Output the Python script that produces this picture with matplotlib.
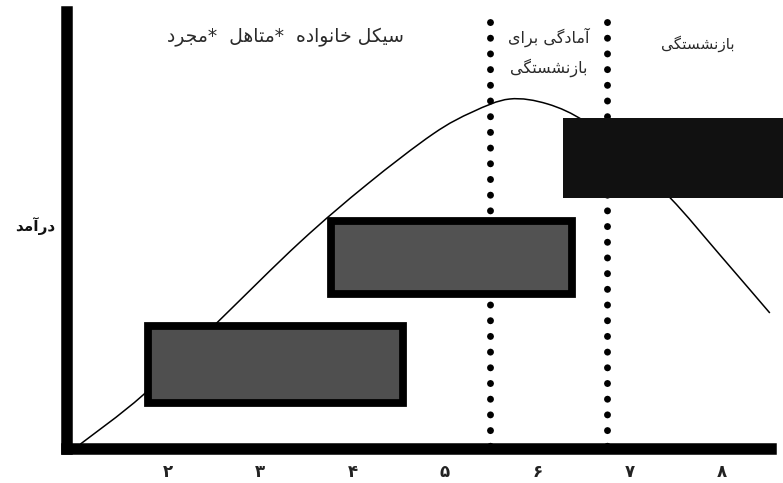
import matplotlib
matplotlib.use("Agg")
import matplotlib.pyplot as plt
from matplotlib.patches import Rectangle, PathPatch
from matplotlib.path import Path

plt.rcParams['font.family'] = ['DejaVu Sans']

# ---------------- data ----------------
tick_pos = [2, 3, 4, 5, 6, 7, 8]
tick_labels = ['۲', '۳', '۴', '۵', '۶', '۷', '۸']

curve_x = [1.05, 1.73, 2.54, 3.43, 4.16, 4.87, 5.30, 5.70, 6.11, 6.51, 6.90, 7.44, 7.98, 8.52]
curve_y = [1.1, 12.2, 28.7, 46.7, 59.8, 71.1, 76.1, 79.0, 77.9, 74.0, 67.0, 56.7, 43.8, 30.7]

box_start = [1.78, 3.77, 6.28]
box_end = [4.55, 6.38, 8.75]
box_low = [10.3, 34.9, 56.7]
box_high = [27.8, 51.5, 74.7]
box_fill = ['#4f4f4f', '#525252', '#111111']
box_edge = [True, True, False]

divider_x = [5.49, 6.76]

label_top_left = 'سیکل خانواده  *متاهل  *مجرد'
label_prep = ['آمادگی برای', 'بازنشستگی']
label_retire = 'بازنشستگی'
label_y = 'درآمد'

# ------------- Arabic shaping helper -------------
FORMS = {
    'ا': ('\uFE8D', '\uFE8E', None, None),
    'آ': ('\uFE81', '\uFE82', None, None),
    'ب': ('\uFE8F', '\uFE90', '\uFE91', '\uFE92'),
    'ت': ('\uFE95', '\uFE96', '\uFE97', '\uFE98'),
    'ج': ('\uFE9D', '\uFE9E', '\uFE9F', '\uFEA0'),
    'خ': ('\uFEA5', '\uFEA6', '\uFEA7', '\uFEA8'),
    'د': ('\uFEA9', '\uFEAA', None, None),
    'ر': ('\uFEAD', '\uFEAE', None, None),
    'ز': ('\uFEAF', '\uFEB0', None, None),
    'س': ('\uFEB1', '\uFEB2', '\uFEB3', '\uFEB4'),
    'ش': ('\uFEB5', '\uFEB6', '\uFEB7', '\uFEB8'),
    'ل': ('\uFEDD', '\uFEDE', '\uFEDF', '\uFEE0'),
    'م': ('\uFEE1', '\uFEE2', '\uFEE3', '\uFEE4'),
    'ن': ('\uFEE5', '\uFEE6', '\uFEE7', '\uFEE8'),
    'ه': ('\uFEE9', '\uFEEA', '\uFEEB', '\uFEEC'),
    'و': ('\uFEED', '\uFEEE', None, None),
    'ک': ('\uFB8E', '\uFB8F', '\uFB90', '\uFB91'),
    'گ': ('\uFB92', '\uFB93', '\uFB94', '\uFB95'),
    'ی': ('\uFBFC', '\uFBFD', '\uFBFE', '\uFBFF'),
}


def dual(c):
    return c in FORMS and FORMS[c][2] is not None


def shape(text):
    out = []
    for i, c in enumerate(text):
        if c not in FORMS:
            out.append(c)
            continue
        prev = text[i - 1] if i > 0 else ''
        nxt = text[i + 1] if i + 1 < len(text) else ''
        jp = dual(prev)
        jn = dual(c) and nxt in FORMS
        f = FORMS[c]
        if jp and jn:
            out.append(f[3])
        elif jp:
            out.append(f[1])
        elif jn:
            out.append(f[2])
        else:
            out.append(f[0])
    return ''.join(reversed(out))


def smooth_path(xs, ys):
    """Catmull-Rom spline through the points, as cubic Bezier path."""
    pts = list(zip(xs, ys))
    n = len(pts)
    verts = [pts[0]]
    codes = [Path.MOVETO]
    for i in range(n - 1):
        p0 = pts[i - 1] if i > 0 else pts[i]
        p1 = pts[i]
        p2 = pts[i + 1]
        p3 = pts[i + 2] if i + 2 < n else pts[i + 1]
        c1 = (p1[0] + (p2[0] - p0[0]) / 6, p1[1] + (p2[1] - p0[1]) / 6)
        c2 = (p2[0] - (p3[0] - p1[0]) / 6, p2[1] - (p3[1] - p1[1]) / 6)
        verts += [c1, c2, p2]
        codes += [Path.CURVE4] * 3
    return Path(verts, codes)


# ---------------- figure ----------------
fig = plt.figure(figsize=(7.83, 4.83), dpi=100)
ax = fig.add_axes([66.5 / 783, 34 / 483, (775 - 66.5) / 783, 443 / 483])
ax.set_xlim(0.9, 8.576)
ax.set_ylim(0, 100)

for s in ['top', 'right']:
    ax.spines[s].set_visible(False)
for s in ['left', 'bottom']:
    ax.spines[s].set_linewidth(8.3)
    ax.spines[s].set_color('black')
    ax.spines[s].set_capstyle('projecting')
ax.spines['bottom'].set_bounds(0.9, 8.53)
ax.spines['left'].set_bounds(0, 98.6)

ax.set_yticks([])
ax.set_xticks(tick_pos)
ax.set_xticklabels(tick_labels, fontsize=12, fontweight='bold', color='#222222')
ax.tick_params(axis='x', length=0, pad=10)

# curve
ax.add_patch(PathPatch(smooth_path(curve_x, curve_y), facecolor='none',
                       edgecolor='black', lw=1.1, zorder=2))

# dotted dividers
for dx in divider_x:
    ax.plot([dx, dx], [96.4, 0], color='black', lw=5.0,
            linestyle=(0, (0.01, 2.25)), dash_capstyle='round', zorder=3,
            clip_on=False)

# boxes
for xs, xe, yl, yh, fc, ed in zip(box_start, box_end, box_low, box_high, box_fill, box_edge):
    r = Rectangle((xs, yl), xe - xs, yh - yl, facecolor=fc,
                  edgecolor='black' if ed else 'none',
                  linewidth=5.6 if ed else 0, joinstyle='miter', zorder=4,
                  clip_on=False)
    ax.add_patch(r)

# texts
ax.text(3.27, 93.0, shape(label_top_left), ha='center', va='center',
        fontsize=13.5, color='#2a2a2a')
ax.text(6.12, 93.0, shape(label_prep[0]), ha='center', va='center',
        fontsize=11.5, color='#2a2a2a')
ax.text(6.12, 86.0, shape(label_prep[1]), ha='center', va='center',
        fontsize=11.5, color='#2a2a2a')
ax.text(7.74, 91.6, shape(label_retire), ha='center', va='center',
        fontsize=11, color='#2a2a2a')
ax.text(0.56, 50.3, shape(label_y), ha='center', va='center',
        fontsize=11, fontweight='bold', color='#111111', clip_on=False)

fig.savefig('out.png', dpi=100, facecolor='white')
